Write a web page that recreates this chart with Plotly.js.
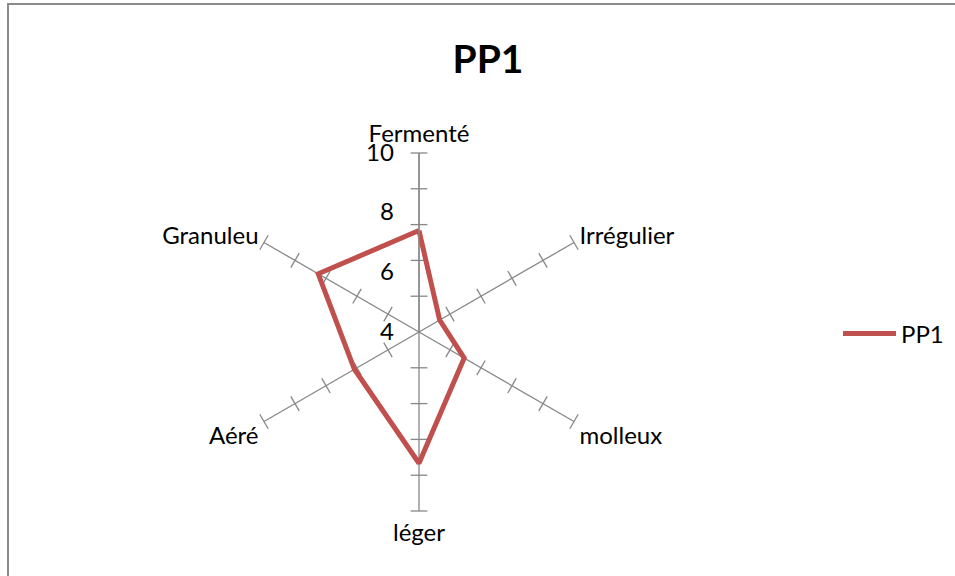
<!DOCTYPE html>
<html>
<head>
<meta charset="utf-8">
<script src="https://cdn.plot.ly/plotly-3.0.1.min.js"></script>
<style>
  html, body { margin: 0; padding: 0; background: #fff; overflow: hidden; }
  #chart { position: absolute; left: 0; top: 0; width: 955px; height: 576px; }
  #frame { position: absolute; left: 7px; top: 3px; width: 1200px; height: 1200px;
           border-left: 2px solid #8a8a8a; border-top: 2px solid #8a8a8a; pointer-events: none; }
</style>
</head>
<body>
<div id="chart"></div>
<div id="frame"></div>
<script>
// Data
const categories = ["Fermenté", "Irrégulier", "molleux", "léger", "Aéré", "Granuleu"];
const pp1Values = [7.4, 4.8, 5.75, 8.4, 6.5, 7.9];
const seriesName = "PP1";
const radialRange = [4, 10];
const radialLabelVals = [4, 6, 8, 10];
const radialLabelText = ["4", "6", "8", "10"];
const minorTickVals = [5.2, 6.4, 7.6, 8.8, 10];

const gray = "#878787";
const font = "Lato, 'Open Sans', sans-serif";

// closed polygon
const theta = categories.concat([categories[0]]);
const r = pp1Values.concat([pp1Values[0]]);

// tick marks on every spoke (perpendicular to spoke)
const tickR = [], tickT = [], tickA = [];
categories.forEach((c, i) => {
  const ang = 90 - i * 60; // math angle of the spoke
  minorTickVals.forEach(v => {
    tickR.push(v); tickT.push(c);
    tickA.push(90 - ang);
  });
});

const traces = [
  {
    type: "scatterpolar", r: tickR, theta: tickT, mode: "markers",
    marker: { symbol: "line-ew", size: 12, angle: tickA, color: gray, line: { color: gray, width: 1.3 } },
    showlegend: false, hoverinfo: "skip"
  },
  {
    type: "scatterpolar", r: r, theta: theta, mode: "lines", name: seriesName,
    line: { color: "#C0504D", width: 5 }
  }
];

const layout = {
  width: 955, height: 576,
  margin: { l: 0, r: 0, t: 0, b: 0 },
  paper_bgcolor: "#fff",
  font: { family: font, size: 25, color: "#000" },
  title: {
    text: "<b>PP1</b>", font: { family: font, size: 39, color: "#000" },
    xref: "container", yref: "container", x: 488 / 955, y: 1 - 59 / 576,
    xanchor: "center", yanchor: "middle"
  },
  polar: {
    domain: { x: [240 / 955, 598 / 955], y: [65 / 576, 423 / 576] },
    bgcolor: "rgba(0,0,0,0)",
    radialaxis: {
      range: radialRange, tickvals: radialLabelVals, ticktext: radialLabelText,
      angle: 90, side: "counterclockwise", tickangle: 90,
      showline: true, linecolor: gray, linewidth: 1.3,
      showgrid: false, ticks: "outside", ticklen: 16, tickcolor: "rgba(0,0,0,0)",
      tickfont: { family: font, size: 24, color: "#000" }
    },
    angularaxis: {
      rotation: 90, direction: "clockwise",
      categoryorder: "array", categoryarray: categories,
      showline: false, showgrid: true, gridcolor: gray, gridwidth: 1.3,
      ticks: "outside", ticklen: 1, tickcolor: "rgba(0,0,0,0)",
      tickfont: { family: font, size: 24, color: "#000" }
    }
  },
  legend: {
    x: 838 / 955, xanchor: "left", y: (576 - 334) / 576, yanchor: "middle",
    itemwidth: 53,
    font: { family: font, size: 24, color: "#000" }, bgcolor: "rgba(0,0,0,0)"
  },
  showlegend: true
};

Plotly.newPlot("chart", traces, layout, { displayModeBar: false, staticPlot: true });
</script>
</body>
</html>
